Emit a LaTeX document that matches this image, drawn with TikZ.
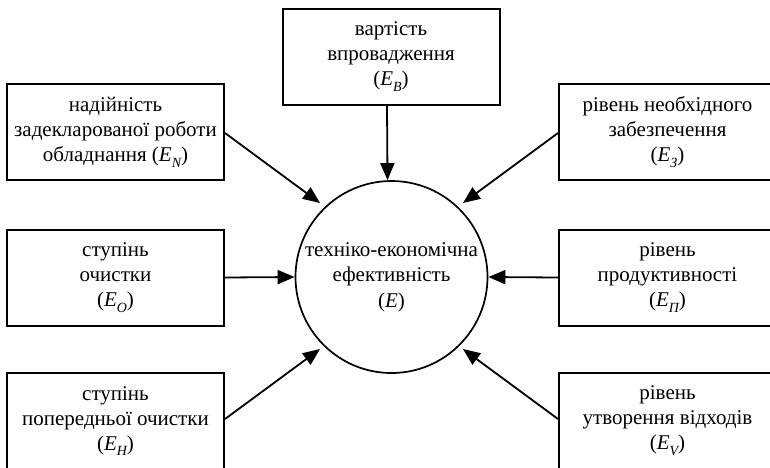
\documentclass[tikz,border=0pt]{standalone}
\usepackage{fontspec}
\setmainfont{Liberation Serif}
\usetikzlibrary{arrows.meta}
\newcommand\Esub[1]{\textit{E}\raisebox{-0.28em}{\fontsize{14}{14}\selectfont\itshape #1}}
\tikzset{
  factor/.style={draw, line width=2pt, minimum width=217pt, minimum height=96pt,
    align=center, inner sep=2pt, font=\fontsize{21}{25}\selectfont},
  goal/.style={draw, circle, line width=1.7pt, minimum size=192pt, align=center,
    inner sep=0pt, font=\fontsize{21}{25.5}\selectfont},
  link/.style={line width=1.8pt, -{Triangle[length=17pt,width=14pt]}}
}
\begin{document}
\begin{tikzpicture}[x=1pt,y=-1pt]
\useasboundingbox (0,0) rectangle (770,467);
\node[goal] (E) at (391.5,277) {техніко-економічна\\ефективність\\(\textit{E})};
\node[factor] (B) at (391,56.5) {вартість\\впровадження\\(\Esub{В})};
\node[factor] (N) at (115.5,132) {надійність\\задекларованої роботи\\обладнання (\Esub{N})};
\node[factor] (Z) at (667.5,132) {рівень необхідного\\забезпечення\\(\Esub{З})};
\node[factor] (O) at (115.5,277.5) {ступінь\\очистки\\(\Esub{O})};
\node[factor] (P) at (667.5,277.5) {рівень\\продуктивності\\(\Esub{П})};
\node[factor] (H) at (115.5,421) {ступінь\\попередньої очистки\\(\Esub{Н})};
\node[factor] (V) at (667.5,421) {рівень\\утворення відходів\\(\Esub{V})};
\coordinate (tN) at (320,203);
\coordinate (tZ) at (463,203);
\coordinate (tH) at (320,349);
\coordinate (tV) at (463,349);
\draw[link] ([xshift=-4pt]B.south) -- ([xshift=-4pt]E.north);
\draw[link] ([yshift=-1pt]N.east) -- (tN);
\draw[link] ([yshift=-1pt]Z.west) -- (tZ);
\draw[link] (O.east) -- (E.west);
\draw[link] (P.west) -- (E.east);
\draw[link] ([yshift=2pt]H.east) -- (tH);
\draw[link] ([yshift=2pt]V.west) -- (tV);
\end{tikzpicture}
\end{document}
